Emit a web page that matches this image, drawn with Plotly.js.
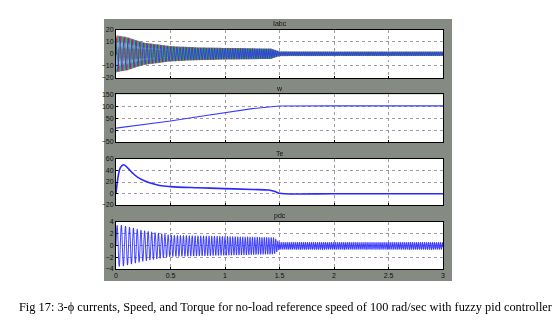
<!DOCTYPE html>
<html><head><meta charset="utf-8">
<script src="https://cdn.plot.ly/plotly-3.0.1.min.js"></script>
<style>html,body{margin:0;padding:0;background:#fff}#c{width:558px;height:325px}</style>
</head><body><div id="c"></div>
<script>
// ---- values ----
const subplotTitles = ["Iabc", "w", "Te", "pdc"];
const xTicks = [0, 0.5, 1, 1.5, 2, 2.5, 3];
const xTickText = ["0", "0.5", "1", "1.5", "2", "2.5", "3"];

// 3-phase currents: envelope (A) and electrical frequency (Hz)
const iTime = [0, 0.1, 0.25, 0.5, 0.75, 1.0, 1.25, 1.42, 1.5, 2, 2.5, 3];
const iAmp  = [15, 13.5, 9, 6, 5, 4.5, 4.2, 4.0, 1.6, 1.5, 1.5, 1.5];
const iFreq = [25, 27, 30, 34, 38, 42, 46, 49, 50, 50, 50, 50];

// speed w (rad/s)
const wTime = [0, 0.25, 0.5, 0.75, 1.0, 1.25, 1.45, 1.5, 2, 2.5, 3];
const wVal  = [8, 22, 38, 56, 74, 90, 99, 101, 101.5, 101.5, 101.5];

// torque Te (N.m)
const teTime = [0, 0.02, 0.04, 0.07, 0.1, 0.15, 0.2, 0.3, 0.4, 0.5, 0.75, 1.0, 1.25, 1.4, 1.45, 1.5, 1.55, 2, 2.5, 3];
const teVal  = [0, 30, 45, 50, 46, 36, 28, 19, 14, 12, 10, 8.5, 7, 6, 4, 0.5, -0.5, -0.5, -0.5, -0.5];

// pdc: envelope and frequency
const pTime = [0, 0.05, 0.25, 0.5, 1.0, 1.45, 1.5, 2, 3];
const pAmp  = [3.5, 3.5, 2.6, 1.8, 1.6, 1.4, 0.6, 0.6, 0.6];
const pFreq = [25, 26, 30, 35, 42, 48, 55, 55, 55];

// ---- helpers ----
function interp(xs, ys, x) {
  if (x <= xs[0]) return ys[0];
  for (let i = 1; i < xs.length; i++) {
    if (x <= xs[i]) { const f = (x - xs[i-1]) / (xs[i] - xs[i-1]); return ys[i-1] + f * (ys[i] - ys[i-1]); }
  }
  return ys[ys.length - 1];
}
const dt = 1 / 2500;
const N = Math.round(3 / dt);
const tt = [];
for (let k = 0; k <= N; k++) tt.push(k * dt);

function wave(times, amps, freqs, shift) {
  const y = []; let ph = 0;
  for (let k = 0; k <= N; k++) {
    const t = tt[k];
    y.push(interp(times, amps, t) * Math.sin(ph + shift));
    ph += 2 * Math.PI * interp(times, freqs, t) * dt;
  }
  return y;
}

const cols = ['rgba(255,40,40,0.9)', 'rgba(20,200,20,0.9)', 'rgba(50,50,255,0.9)'];
const traces = [];
[0, 1, 2].forEach(p => {
  traces.push({x: tt, y: wave(iTime, iAmp, iFreq, -p * 2 * Math.PI / 3), type: 'scattergl', mode: 'lines',
    line: {color: cols[p], width: 1}, xaxis: 'x', yaxis: 'y', hoverinfo: 'skip'});
});
traces.push({x: wTime, y: wVal, type: 'scatter', mode: 'lines', line: {color: '#3a3aff', width: 1.1}, xaxis: 'x2', yaxis: 'y2'});
traces.push({x: teTime, y: teVal, type: 'scatter', mode: 'lines', line: {color: '#2a2aff', width: 1.6, shape: 'spline'}, xaxis: 'x3', yaxis: 'y3'});
traces.push({x: tt, y: wave(pTime, pAmp, pFreq, 0), type: 'scattergl', mode: 'lines',
  line: {color: 'rgba(40,40,255,0.85)', width: 1}, xaxis: 'x4', yaxis: 'y4', hoverinfo: 'skip'});

const W = 558, H = 325;
const xd = [116 / W, 443 / W];
const boxes = [[29.5, 78], [94.3, 142], [159, 205], [222, 269]];
const yRanges = [[-20, 20], [-50, 150], [-20, 60], [-4, 4]];
const yTicks = [[-20, -10, 0, 10, 20], [-50, 0, 50, 100, 150], [-20, 0, 20, 40, 60], [-4, -2, 0, 2, 4]];

const tickFont = {family: 'Liberation Sans, Arial, sans-serif', size: 7, color: '#111'};
const layout = {
  width: W, height: H, margin: {l: 0, r: 0, t: 0, b: 0},
  paper_bgcolor: '#ffffff', plot_bgcolor: 'rgba(0,0,0,0)', showlegend: false,
  shapes: [{type: 'rect', xref: 'paper', yref: 'paper', x0: 104 / W, x1: 452 / W, y0: 1 - 281 / H, y1: 1 - 19 / H,
    fillcolor: '#858a82', line: {width: 0}, layer: 'below'}],
  annotations: [{xref: 'paper', yref: 'paper', x: 285.5 / W, y: 1 - 307 / H, yanchor: 'middle', showarrow: false,
    text: 'Fig 17: 3-\u03d5 currents, Speed, and Torque for no-load reference speed of 100 rad/sec with fuzzy pid controller',
    font: {family: 'Liberation Serif, Times New Roman, serif', size: 12.35, color: '#000'}}]
};
for (let i = 0; i < 4; i++) {
  const s = i === 0 ? '' : String(i + 1);
  const y0 = 1 - boxes[i][1] / H, y1 = 1 - boxes[i][0] / H;
  layout.shapes.push({type: 'rect', xref: 'paper', yref: 'paper', x0: xd[0], x1: xd[1], y0: y0, y1: y1,
    fillcolor: '#ffffff', line: {width: 0}, layer: 'below'});
  layout['xaxis' + s] = {domain: xd, anchor: 'y' + s, range: [0, 3], tickvals: xTicks, ticktext: xTickText,
    showticklabels: i === 3, ticks: 'inside', ticklen: 2, tickcolor: '#000', showgrid: true, gridcolor: '#a09aa8',
    griddash: 'dot', gridwidth: 1, showline: true, linecolor: '#000', linewidth: 1, mirror: true, zeroline: false,
    tickfont: tickFont, fixedrange: true};
  layout['yaxis' + s] = {domain: [y0, y1], anchor: 'x' + s, range: yRanges[i], tickvals: yTicks[i],
    ticks: 'inside', ticklen: 2, tickcolor: '#000', showgrid: true, gridcolor: '#a09aa8', griddash: 'dot', gridwidth: 1,
    showline: true, linecolor: '#000', linewidth: 1, mirror: true, zeroline: false, tickfont: tickFont, fixedrange: true};
  layout.annotations.push({xref: 'paper', yref: 'paper', x: (xd[0] + xd[1]) / 2, y: y1, yanchor: 'bottom', yshift: 0,
    showarrow: false, text: subplotTitles[i], font: {family: 'Liberation Sans, Arial, sans-serif', size: 7, color: '#111'}});
}
Plotly.newPlot('c', traces, layout, {staticPlot: true, displayModeBar: false});
</script>
</body></html>
